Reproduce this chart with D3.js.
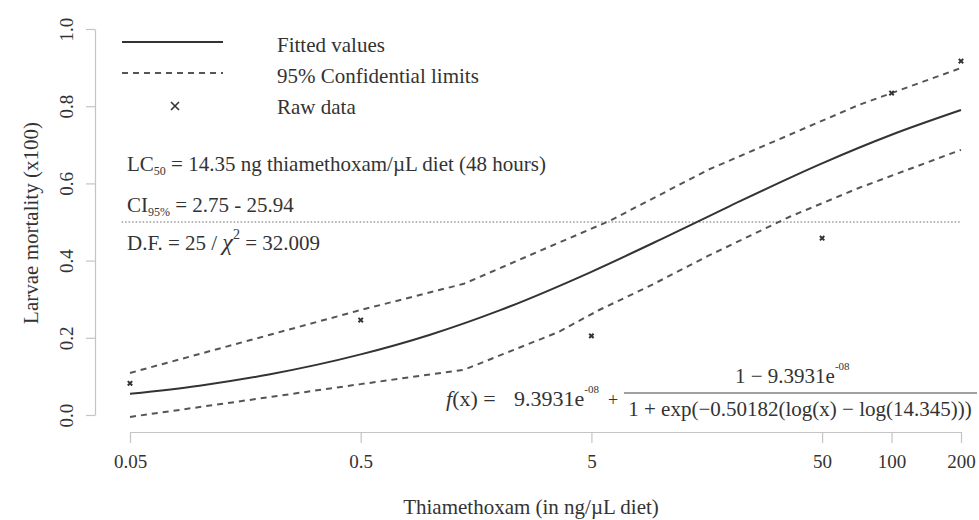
<!DOCTYPE html>
<html>
<head>
<meta charset="utf-8">
<script src="https://cdn.jsdelivr.net/npm/d3@7"></script>
<style>
  body { margin: 0; background: #fff; }
  svg text { font-family: "Liberation Serif", "Times New Roman", serif; fill: #333; }
</style>
</head>
<body>
<div id="viz"></div>
<script>
// doses (ng/uL diet) and mortality
var rawDose = [0.05, 0.5, 5, 50, 100, 200];
var rawMort = [0.082, 0.246, 0.205, 0.458, 0.834, 0.917];

var fitDose = [0.05, 0.1, 0.2, 0.5, 1, 2, 5, 10, 20, 50, 100, 200];
var fitMort = [0.055, 0.076, 0.105, 0.157, 0.208, 0.271, 0.371, 0.455, 0.542, 0.652, 0.726, 0.790];

var upDose = [0.05, 0.5, 1.4, 3.6, 6, 16, 72, 100, 200];
var upMort = [0.109, 0.272, 0.34, 0.446, 0.503, 0.635, 0.803, 0.834, 0.899];

var loDose = [0.05, 0.5, 1.4, 3.6, 5.4, 9, 16, 36, 72, 200];
var loMort = [-0.005, 0.08, 0.117, 0.215, 0.272, 0.335, 0.412, 0.513, 0.588, 0.687];

var xTicks = [0.05, 0.5, 5, 50, 100, 200];
var yTicks = [0, 0.2, 0.4, 0.6, 0.8, 1.0];

var w = 979, h = 520;
var svg, x, y;

function zip(a, b) {
  return a.map(function(d, i) { return {x: d, y: b[i]}; });
}

function draw() {
  svg = d3.select("#viz").append("svg")
    .attr("width", w)
    .attr("height", h);

  x = d3.scaleLog().domain([0.05, 200]).range([130, 961]);
  y = d3.scaleLinear().domain([0, 1]).range([415, 29]);

  // axes (R style, light grey)
  var xAxis = svg.append("g")
    .attr("transform", "translate(0,432)")
    .call(d3.axisBottom(x).tickValues(xTicks).tickFormat(function(d) { return d; })
      .tickSize(11).tickSizeOuter(0).tickPadding(12));
  xAxis.selectAll("text").style("font-size", "19px");

  var yAxis = svg.append("g")
    .attr("transform", "translate(95,0)")
    .call(d3.axisLeft(y).tickValues(yTicks).tickFormat(d3.format(".1f"))
      .tickSize(9).tickSizeOuter(0));
  yAxis.selectAll("text")
    .style("font-size", "19px")
    .attr("text-anchor", "middle")
    .attr("x", 0).attr("dy", 0)
    .attr("transform", "translate(-22,0) rotate(-90)");

  svg.selectAll(".domain, .tick line").attr("stroke", "#c4c4c4").attr("stroke-width", 1.2);

  // axis titles
  svg.append("text")
    .attr("x", 531).attr("y", 514)
    .attr("text-anchor", "middle")
    .style("font-size", "21px")
    .text("Thiamethoxam (in ng/\u00b5L diet)");

  svg.append("text")
    .attr("transform", "translate(38,223) rotate(-90)")
    .attr("text-anchor", "middle")
    .style("font-size", "21px")
    .text("Larvae mortality (x100)");

  // LC50 reference line
  svg.append("line")
    .attr("x1", x(0.046)).attr("x2", x(200))
    .attr("y1", y(0.5)).attr("y2", y(0.5))
    .attr("stroke", "#9a9a9a").attr("stroke-width", 1.3)
    .attr("stroke-dasharray", "1.5,2");

  var line = d3.line()
    .x(function(d) { return x(d.x); })
    .y(function(d) { return y(d.y); });

  svg.append("path")
    .datum(zip(upDose, upMort))
    .attr("d", line)
    .attr("fill", "none").attr("stroke", "#555").attr("stroke-width", 2)
    .attr("stroke-dasharray", "6,5");

  svg.append("path")
    .datum(zip(loDose, loMort))
    .attr("d", line)
    .attr("fill", "none").attr("stroke", "#555").attr("stroke-width", 2)
    .attr("stroke-dasharray", "6,5");

  svg.append("path")
    .datum(zip(fitDose, fitMort))
    .attr("d", line.curve(d3.curveMonotoneX))
    .attr("fill", "none").attr("stroke", "#333").attr("stroke-width", 2);

  svg.selectAll(".raw")
    .data(zip(rawDose, rawMort))
    .enter().append("path")
    .attr("class", "raw")
    .attr("transform", function(d) { return "translate(" + x(d.x) + "," + y(d.y) + ")"; })
    .attr("d", "M-2.2,-2.2L2.2,2.2M-2.2,2.2L2.2,-2.2")
    .attr("stroke", "#333").attr("stroke-width", 2);

  // legend
  var lg = svg.append("g");
  lg.append("line").attr("x1", 122).attr("x2", 223).attr("y1", 42).attr("y2", 42)
    .attr("stroke", "#333").attr("stroke-width", 2);
  lg.append("line").attr("x1", 122).attr("x2", 223).attr("y1", 73).attr("y2", 73)
    .attr("stroke", "#555").attr("stroke-width", 2).attr("stroke-dasharray", "6,5");
  lg.append("path").attr("transform", "translate(175,106)")
    .attr("d", "M-4,-4L4,4M-4,4L4,-4")
    .attr("stroke", "#333").attr("stroke-width", 1.6);
  ["Fitted values", "95% Confidential limits", "Raw data"].forEach(function(t, i) {
    lg.append("text").attr("x", 277).attr("y", 52 + i * 31)
      .style("font-size", "21px").text(t);
  });

  // annotations
  var t1 = svg.append("text").attr("x", 127).attr("y", 171).style("font-size", "21px");
  t1.append("tspan").text("LC");
  t1.append("tspan").attr("dy", 4).style("font-size", "12px").text("50");
  t1.append("tspan").attr("dy", -4).text(" = 14.35 ng thiamethoxam/\u00b5L diet (48 hours)");

  var t2 = svg.append("text").attr("x", 127).attr("y", 212).style("font-size", "21px");
  t2.append("tspan").text("CI");
  t2.append("tspan").attr("dy", 4).style("font-size", "12px").text("95%");
  t2.append("tspan").attr("dy", -4).text(" = 2.75 - 25.94");

  var t3 = svg.append("text").attr("x", 127).attr("y", 250).style("font-size", "21px");
  t3.append("tspan").text("D.F. = 25 / ");
  t3.append("tspan").style("font-style", "italic").style("font-size", "24px").text("\u03c7");
  t3.append("tspan").attr("dy", -11).style("font-size", "14px").text("2");
  t3.append("tspan").attr("dy", 11).text(" = 32.009");

  // fitted equation
  var f = svg.append("text").attr("x", 446).attr("y", 406).style("font-size", "22px");
  f.append("tspan").style("font-style", "italic").text("f");
  f.append("tspan").text("(x) =");
  f.append("tspan").attr("x", 514).text("9.3931e");
  f.append("tspan").attr("dy", -13).style("font-size", "11px").text("-08");
  f.append("tspan").attr("dy", 13).attr("x", 608).style("font-size", "18px").text("+");

  svg.append("line").attr("x1", 624).attr("x2", 977).attr("y1", 393).attr("y2", 393)
    .attr("stroke", "#444").attr("stroke-width", 1.2);

  var num = svg.append("text").attr("x", 735).attr("y", 383).style("font-size", "21px");
  num.append("tspan").text("1 \u2212 9.3931e");
  num.append("tspan").attr("dy", -13).style("font-size", "11px").text("-08");

  svg.append("text").attr("x", 800).attr("y", 416)
    .attr("text-anchor", "middle").style("font-size", "21px")
    .text("1 + exp(\u22120.50182(log(x) \u2212 log(14.345)))");
}

draw();
</script>
</body>
</html>
